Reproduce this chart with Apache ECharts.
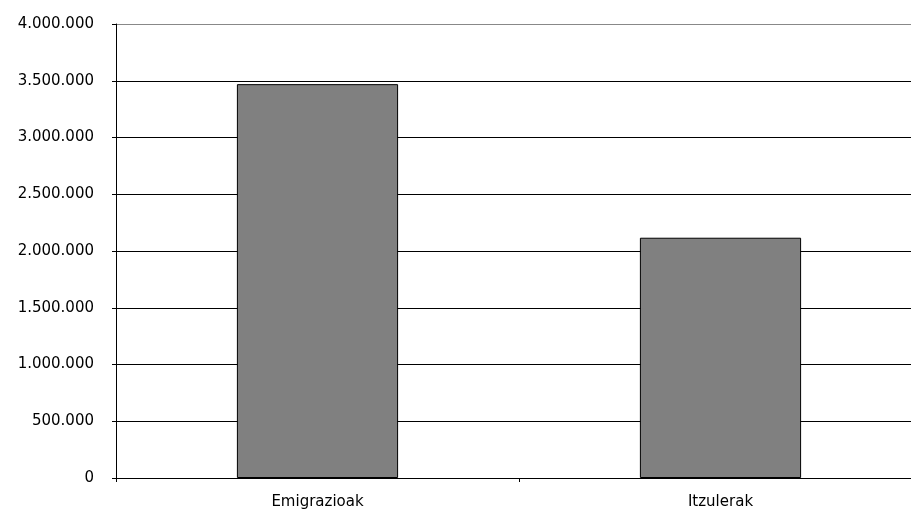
<!DOCTYPE html>
<html><head><meta charset="utf-8">
<script src="https://cdn.jsdelivr.net/npm/echarts@6/dist/echarts.min.js"></script>
<style>html,body{margin:0;padding:0;background:#fff}#c{width:911px;height:509px}</style>
</head><body><div id="c"></div>
<script>
const categories = ['Emigrazioak', 'Itzulerak'];
const values = [3470000, 2117000];
const yMin = 0, yMax = 4000000, yStep = 500000;

function fmt(v){ return String(v).replace(/\B(?=(\d{3})+(?!\d))/g, '.'); }

const chart = echarts.init(document.getElementById('c'), null, {renderer:'canvas'});
chart.setOption({
  animation: false,
  backgroundColor: '#fff',
  grid: {left: 116, right: -11, top: 24, bottom: 31, containLabel: false, outerBoundsMode: 'none'},
  xAxis: {
    type: 'category', data: categories,
    axisLine: {show: true, lineStyle: {color: '#000', width: 1}},
    axisTick: {show: true, alignWithLabel: false, length: 4, lineStyle: {color: '#000'}},
    axisLabel: {color: '#000', fontFamily: 'DejaVu Sans', fontSize: 15, margin: 17},
    splitLine: {show: false}
  },
  yAxis: {
    type: 'value', min: yMin, max: yMax, interval: yStep,
    axisLine: {show: true, lineStyle: {color: '#000', width: 1}},
    axisTick: {show: true, length: 4, lineStyle: {color: '#000'}},
    axisLabel: {color: '#000', fontFamily: 'DejaVu Sans', fontSize: 15, margin: 22, formatter: fmt},
    splitLine: {show: true, lineStyle: {color: ['#000','#000','#000','#000','#000','#000','#000','#000','#888'], width: 1}}
  },
  series: [{
    type: 'bar', data: values, barWidth: '40%',
    itemStyle: {color: '#808080', borderColor: '#000', borderWidth: 1}
  }]
});
</script></body></html>
